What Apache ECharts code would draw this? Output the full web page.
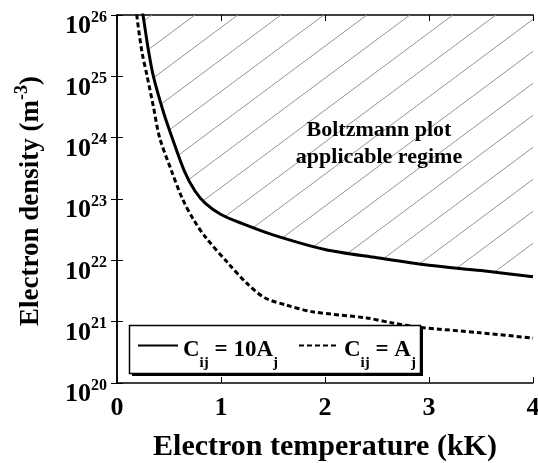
<!DOCTYPE html>
<html>
<head>
<meta charset="utf-8">
<script src="https://cdn.jsdelivr.net/npm/echarts@6/dist/echarts.min.js"></script>
<style>html,body{margin:0;padding:0;background:#fff;}#c{width:538px;height:463px;}</style>
</head>
<body>
<div id="c"></div>
<script>
// ---- data ----
const xTicks = [0, 1, 2, 3, 4];
const yTickExponents = [20, 21, 22, 23, 24, 25, 26];
const solidT = [0.22, 0.25, 0.30, 0.35, 0.45, 0.53, 0.65, 0.75, 0.85, 1.0, 1.2, 1.5, 2.0, 2.5, 3.0, 3.5, 4.0];
const solidN = [2.0e26, 1.0e26, 2.8e25, 1.0e25, 2.5e24, 1.0e24, 2.8e23, 1.35e23, 8.5e22, 5.6e22, 4.0e22, 2.6e22, 1.5e22, 1.1e22, 8.3e21, 6.8e21, 5.4e21];
const dashT = [0.17, 0.19, 0.24, 0.29, 0.35, 0.41, 0.52, 0.63, 0.74, 0.85, 1.07, 1.25, 1.42, 1.63, 1.88, 2.4, 2.65, 2.91, 3.49, 4.0];
const dashN = [2.5e26, 1.0e26, 2.5e25, 1.0e25, 3.2e24, 1.0e24, 3.0e23, 1.0e23, 4.5e22, 2.4e22, 8.9e21, 4.2e21, 2.45e21, 1.86e21, 1.45e21, 1.15e21, 9.5e20, 8.1e20, 6.6e20, 5.4e20];
const legendNames = ['{m|C}{sub|ij}{m| = 10A}{sub|j}', '{m|C}{sub|ij}{m| = A}{sub|j}'];
const annotation = 'Boltzmann plot\napplicable regime';
const xTitle = 'Electron temperature (kK)';
const yTitle = '{t|Electron density (m}{sup|-3}{t|)}';

const FF = '"Liberation Serif", "Times New Roman", serif';

// hatch pattern
const tile = document.createElement('canvas');
tile.width = 43; tile.height = 32;
const g = tile.getContext('2d');
g.strokeStyle = '#939393';
g.lineWidth = 1;
g.beginPath();
g.moveTo(-1, tile.height + 0.75);
g.lineTo(tile.width + 1, -0.75);
g.stroke();

const chart = echarts.init(document.getElementById('c'), null, {renderer: 'canvas'});
const axisCommon = {
  axisLine: {show: true, lineStyle: {color: '#000', width: 1.5}},
  axisTick: {show: true, inside: true, length: 6, lineStyle: {color: '#000', width: 1}},
  splitLine: {show: false}
};
chart.setOption({
  animation: false,
  backgroundColor: '#fff',
  grid: {left: 117, right: 5, top: 15, bottom: 80, containLabel: false, outerBoundsMode: 'none'},
  xAxis: [
    Object.assign({
      type: 'value', min: xTicks[0], max: xTicks[xTicks.length - 1], interval: 1,
      position: 'bottom',
      name: xTitle, nameLocation: 'middle', nameGap: 49,
      nameTextStyle: {fontFamily: FF, fontWeight: 'bold', fontSize: 30, color: '#000'},
      axisLabel: {fontFamily: FF, fontWeight: 'bold', fontSize: 26, color: '#000', margin: 12}
    }, axisCommon),
    Object.assign({
      type: 'value', min: xTicks[0], max: xTicks[xTicks.length - 1], interval: 1,
      position: 'top', axisLabel: {show: false}
    }, axisCommon)
  ],
  yAxis: [
    Object.assign({
      type: 'log', logBase: 10, min: Math.pow(10, yTickExponents[0]), max: Math.pow(10, yTickExponents[yTickExponents.length - 1]),
      interval: 1, position: 'left',
      axisLabel: {
        margin: 10,
        padding: [19, 0, 0, 0],
        formatter: function (v) { return '{b|10}{s|' + Math.round(Math.log10(v)) + '}'; },
        rich: {
          b: {fontFamily: FF, fontWeight: 'bold', fontSize: 26, color: '#000', lineHeight: 30, verticalAlign: 'bottom'},
          s: {fontFamily: FF, fontWeight: 'bold', fontSize: 16, color: '#000', verticalAlign: 'top'}
        }
      }
    }, axisCommon),
    Object.assign({
      type: 'log', logBase: 10, min: Math.pow(10, yTickExponents[0]), max: Math.pow(10, yTickExponents[yTickExponents.length - 1]),
      interval: 1, position: 'right', axisLabel: {show: false}
    }, axisCommon)
  ],
  legend: {
    left: 129, top: 329, z: 20,
    orient: 'horizontal',
    itemWidth: 40, itemHeight: 14, itemGap: 20,
    padding: [0, 8, 0, 8],
    backgroundColor: 'transparent', borderWidth: 0,
    itemStyle: {opacity: 0},
    formatter: function (name) { return name; },
    textStyle: {
      fontFamily: FF, fontWeight: 'bold', fontSize: 23, color: '#000',
      rich: {
        m: {fontFamily: FF, fontWeight: 'bold', fontSize: 23, color: '#000', verticalAlign: 'middle', lineHeight: 50, padding: [10, 0, 0, 0]},
        sub: {fontFamily: FF, fontWeight: 'bold', fontSize: 15, color: '#000', verticalAlign: 'bottom', lineHeight: 15}
      }
    },
    data: legendNames
  },
  graphic: [
    {type: 'rect', z: 10, shape: {x: 132, y: 328, width: 291, height: 48}, style: {fill: '#000'}},
    {type: 'rect', z: 11, shape: {x: 129.5, y: 325.5, width: 291, height: 48}, style: {fill: '#fff', stroke: '#000', lineWidth: 1.5}},
    {
      type: 'text', z: 12, x: 379, y: 117,
      style: {
        text: annotation, textAlign: 'center', textVerticalAlign: 'top',
        font: 'bold 22px ' + FF, fill: '#000', lineHeight: 27
      }
    },
    {
      type: 'text', z: 12, x: 29, y: 201, rotation: Math.PI / 2,
      style: {
        text: yTitle, textAlign: 'center', textVerticalAlign: 'middle',
        rich: {
          t: {fontFamily: FF, fontWeight: 'bold', fontSize: 27, fill: '#000', lineHeight: 31, verticalAlign: 'bottom'},
          sup: {fontFamily: FF, fontWeight: 'bold', fontSize: 18, fill: '#000', verticalAlign: 'top'}
        }
      }
    }
  ],
  series: [
    {
      name: legendNames[0], type: 'line', xAxisIndex: 0, yAxisIndex: 0,
      data: solidT.map((t, i) => [t, solidN[i]]),
      smooth: 0.3, showSymbol: false, symbol: 'none',
      itemStyle: {color: '#000'},
      lineStyle: {color: '#000', width: 3, type: 'solid'},
      areaStyle: {origin: 'end', color: {image: tile, repeat: 'repeat'}, opacity: 1},
      z: 3
    },
    {
      name: legendNames[1], type: 'line', xAxisIndex: 0, yAxisIndex: 0,
      data: dashT.map((t, i) => [t, dashN[i]]),
      smooth: 0.3, showSymbol: false, symbol: 'none',
      itemStyle: {color: '#000'},
      lineStyle: {color: '#000', width: 3, type: [5, 3]},
      z: 3
    }
  ]
});
</script>
</body>
</html>
